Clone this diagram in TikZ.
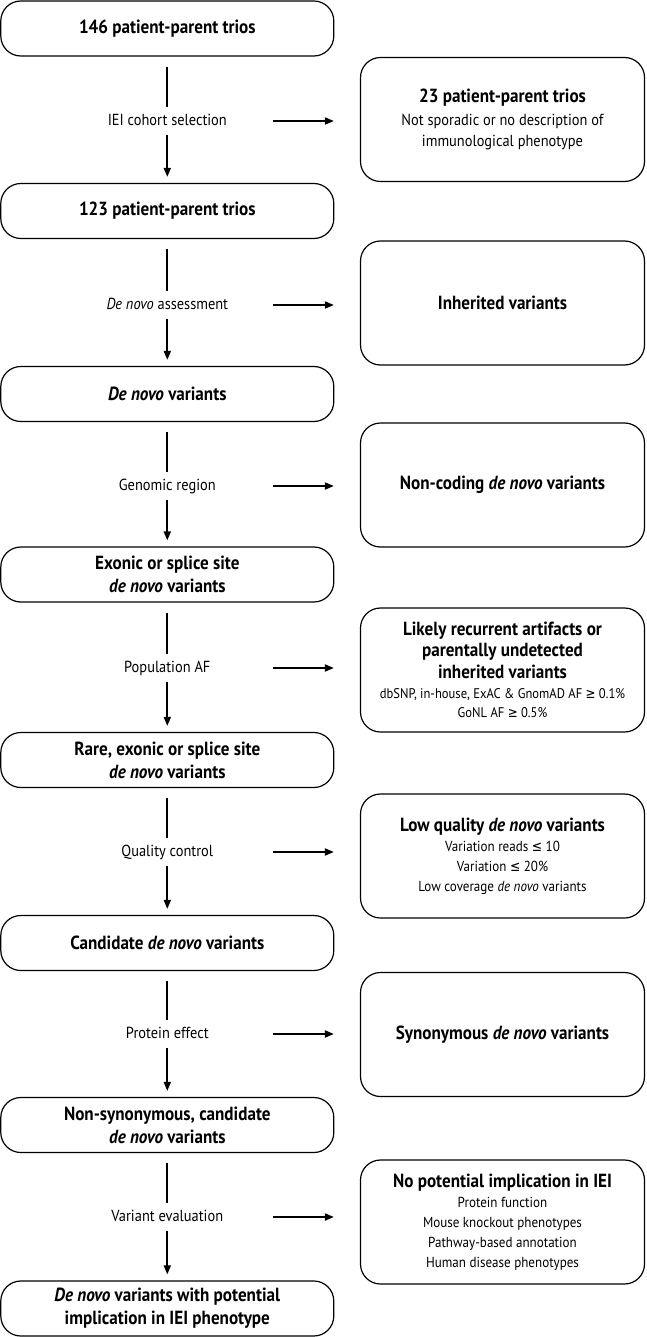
\documentclass[tikz,border=0pt]{standalone}
\usepackage{fontspec}
\setmainfont{PT Sans}[FakeStretch=0.9]
\newfontfamily\symf{DejaVu Sans}[FakeStretch=0.85]
\usetikzlibrary{arrows.meta}
\newcommand{\mydn}{\textit{de novo}}
\newcommand{\myDn}{\textit{De novo}}
\newcommand{\myge}{{\symf ≥}}
\newcommand{\myle}{{\symf ≤}}
\begin{document}
\begin{tikzpicture}[x=1pt,y=-1pt,
  lbox/.style={draw, line width=1.2pt, rounded corners=20pt, minimum width=333pt, minimum height=55pt,
    align=center, font=\fontsize{19}{23}\selectfont\bfseries, inner sep=0pt},
  rbox/.style={draw, line width=1.2pt, rounded corners=20pt, minimum width=284pt, minimum height=124pt,
    align=center, font=\fontsize{16}{21}\selectfont, inner sep=0pt},
  lab/.style={font=\fontsize{16}{19}\selectfont, inner sep=0pt, text height=12pt, text depth=3pt},
  vline/.style={line width=1.8pt},
  arr/.style={line width=1.8pt, -{Triangle[length=9pt,width=7pt]}},
]
\useasboundingbox (0,0) rectangle (646,1337);
% left column
\node[lbox] (b1) at (167.3,28.5) {146 patient-parent trios};
\node[lbox] (b2) at (167.3,211) {123 patient-parent trios};
\node[lbox] (b3) at (167.3,394) {\myDn{} variants};
\node[lbox] (b4) at (167.3,574.5) {Exonic or splice site\\\mydn{} variants};
\node[lbox] (b5) at (167.3,760) {Rare, exonic or splice site\\\mydn{} variants};
\node[lbox] (b6) at (167.3,943) {Candidate \mydn{} variants};
\node[lbox] (b7) at (167.3,1125) {Non-synonymous, candidate\\\mydn{} variants};
\node[lbox] (b8) at (167.3,1308.5) {\myDn{} variants with potential\\implication in IEI phenotype};
% labels
\node[lab] (l1) at (167.3,121) {IEI cohort selection};
\node[lab] (l2) at (167.3,305) {\myDn{} assessment};
\node[lab] (l3) at (167.3,486) {Genomic region};
\node[lab] (l4) at (167.3,668) {Population AF};
\node[lab] (l5) at (167.3,852) {Quality control};
\node[lab] (l6) at (167.3,1034) {Protein effect};
\node[lab] (l7) at (167.3,1217) {Variant evaluation};
% right column
\node[rbox] (r1) at (502.5,119.5) {{\fontsize{19}{23}\selectfont\bfseries 23 patient-parent trios}\\[2pt]
  Not sporadic or no description of\\immunological phenotype};
\node[rbox] (r2) at (502.5,303) {\fontsize{19}{23}\selectfont\bfseries Inherited variants};
\node[rbox] (r3) at (502.5,485) {\fontsize{19}{23}\selectfont\bfseries Non-coding \mydn{} variants};
\node[rbox, font=\fontsize{14}{19}\selectfont] (r4) at (502.5,670) {{\fontsize{19}{23}\selectfont\bfseries Likely recurrent artifacts or}\\[2pt]
  {\fontsize{19}{23}\selectfont\bfseries parentally undetected}\\[3pt]
  {\fontsize{19}{23}\selectfont\bfseries inherited variants}\\[1pt]
  dbSNP, in-house, ExAC \& GnomAD AF \myge{} 0.1\%\\GoNL AF \myge{} 0.5\%};
\node[rbox, font=\fontsize{14.5}{20}\selectfont] (r5) at (502.5,856) {{\fontsize{19}{23}\selectfont\bfseries Low quality \mydn{} variants}\\
  Variation reads \myle{} 10\\Variation \myle{} 20\%\\Low coverage \mydn{} variants};
\node[rbox] (r6) at (502.5,1034.5) {\fontsize{19}{23}\selectfont\bfseries Synonymous \mydn{} variants};
\node[rbox, font=\fontsize{14.5}{20}\selectfont] (r7) at (502.5,1222) {{\fontsize{19}{23}\selectfont\bfseries No potential implication in IEI}\\
  Protein function\\Mouse knockout phenotypes\\Pathway-based annotation\\Human disease phenotypes};
% vertical connectors
\foreach \i/\j in {1/2,2/3,3/4,4/5,5/6,6/7,7/8}{
  \draw[vline, shorten <=10pt, shorten >=6pt] (b\i) -- (l\i);
  \draw[arr, shorten <=6pt, shorten >=6pt] (l\i) -- (b\j);
}
% horizontal connectors
\foreach \i/\y in {1/121,2/305,3/486,4/668,5/852,6/1034,7/1217}{
  \coordinate (h\i) at (273,\y);
  \draw[arr, shorten >=26pt] (h\i) -- (h\i -| r\i.west);
}
\end{tikzpicture}
\end{document}
